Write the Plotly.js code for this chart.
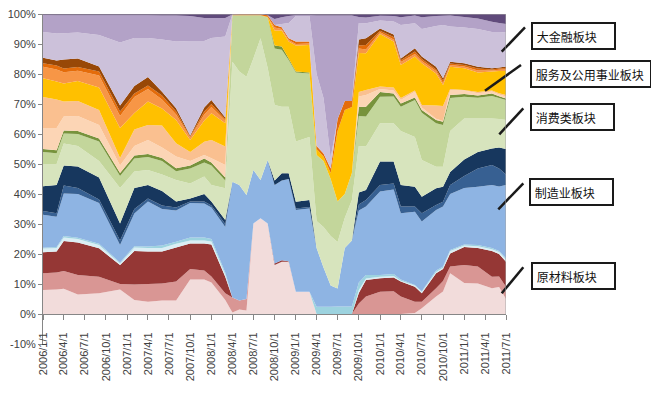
<!DOCTYPE html>
<html>
<head>
<meta charset="utf-8">
<script src="https://cdn.plot.ly/plotly-3.0.1.min.js"></script>
<style>html,body{margin:0;padding:0;background:#fff;}#chart{width:651px;height:393px;}</style>
</head>
<body>
<div id="chart"></div>
<script>
// dates of the data points (month starts)
const dates = ['2006-01-01','2006-03-01','2006-04-01','2006-06-01','2006-09-01','2006-12-01','2007-02-01','2007-04-01','2007-06-01','2007-08-01',
'2007-10-01','2007-12-01','2008-01-01','2008-03-01','2008-04-01','2008-05-01','2008-06-01','2008-07-01','2008-08-01','2008-09-01',
'2008-10-01','2008-11-01','2008-12-01','2009-01-01','2009-03-01','2009-04-01','2009-05-01','2009-06-01','2009-07-01','2009-08-01',
'2009-09-01','2009-10-01','2009-11-01','2010-01-01','2010-03-01','2010-04-01','2010-06-01','2010-07-01','2010-09-01','2010-10-01',
'2010-11-01','2011-01-01','2011-03-01','2011-05-01','2011-06-01','2011-07-01'];

// series values (share, %), bottom to top
const s01 = [8,8.2,8.4,6.5,6.9,8.2,4.7,4.1,4.5,4.5, 11.5,11.5,10.5,4.7,0.5,1.5,1.2,30.2,31.9,30.2, 16.3,17.4,17.4,7.4,7.4,0,0,0,0,0, 0,0,0,0,0,0,0.3,1.9,5.8,7.5, 13.6,10.3,10.2,8.6,9,5];
const s02 = [5.6,5.6,5.9,6.5,5.5,1.8,5.1,5.9,5.7,6.3, 3.5,3,2,2.2,5,3,3.8,0,0,0, 0,0,0,0,0,0,0,0,0,0, 0,3.5,5.8,7.4,7.6,5.8,3.8,2.2,2.8,3.5, 2.2,6,5.6,3.8,3.5,4.1];
const s03 = [7,7,10,10.8,9.5,6.3,11.2,10.8,10.6,11.4, 8.5,9,10.7,5.5,0,0,0,0,0,0, 0.5,0.5,0.2,0,0,0,0,0,0,0, 0,3.5,5.5,4.5,4.6,5,5,2.8,5,4, 4.4,6,6.2,8.6,7.5,8.3];
const s04 = [1.2,1.2,1.2,1.2,1.1,0.5,1.2,1.2,1.2,1.2, 1,1,1,0.8,0,0,0,0,0,0, 0,0,0,0,0,0,0,0,0,0, 0,1,0.5,0.5,0.5,0.3,0.4,0.5,0.4,0.4, 0.8,0.5,0.6,0.6,0.7,0.8];
const s05 = [0.3,0.3,0.5,0.4,0.4,0.4,0.4,0.5,0.8,0.7, 1,1,0.8,0.6,0,0,0,0,0,0, 0,0,0,0,0,2.4,2.4,2.4,2.5,2.5, 2.5,2.5,1.2,0.6,0.6,0.4,0.2,0.2,0.5,0.4, 0.3,0.4,0.4,0.4,0.3,0.4];
const s06 = [11,10.1,14.2,14.6,13.6,5.8,10.9,15,12.2,10.4, 11.5,11.3,10.5,15.2,38.6,38.5,34.7,17.8,12.8,21.1, 26.2,26.6,27.4,27.3,27.8,19.6,13.1,7.1,6,19.5, 22,24,22.8,27.8,28.2,22.1,24.4,23.2,20.2,20, 18.7,18.8,19.4,21,21.5,24.4];
const s07 = [1.2,1.2,2.6,2,1.2,1.5,1.5,1,1.2,1, 0.5,0.7,0.7,1,0,0,0,0,0,0, 0,0,0,0.5,0.5,0,0,0,0,0, 0,2,2.2,2.2,2,2.2,1.7,2.8,1.6,1.6, 3,4,6.1,6.7,6,3.5];
const s08 = [8.3,9.4,6.7,7.2,7.3,5.7,7,4.5,4.8,2, 1,2.5,1.3,1.3,0,0,0,0,0,0, 1.5,2.4,1.9,2.2,2.3,0,0,0,0,0, 0,4,3.3,7.8,7.3,7.2,6.6,5.5,5.6,5, 4.3,5.5,5.5,5.5,7,8.5];
const s09 = [7.4,7,7.3,6.8,5.5,11.8,5.5,5,5.5,7.2, 5,5.8,5.5,10.6,40,37.8,39.4,37.2,47.2,30.7, 25.2,22.2,22.2,20.1,21,9,13.5,16.5,15.5,10, 13.5,15.5,14.5,12.8,12.8,18,16.6,12.2,7.2,6.7, 13.7,13.7,11.2,10,9.5,9.7];
const s10 = [4,3.6,3.4,4,6.5,4,4.3,4.3,4.5,2.9, 5,4.7,6.5,2.6,15.5,18.8,20.5,14.4,7.7,16.8, 18.8,19,15.6,23,21.2,22,22,19,13.5,8, 9,10,10,8.8,8.9,8.1,12.3,15.8,14.5,13.9, 11,7.2,6.9,7.5,7,6.6];
const s11 = [1,1,1,1,1,1,1,1,1,1, 1,1.3,1,1,0,0,0,0,0,0, 1,1.1,0.5,0.3,0.3,0,0,0,0,0, 0,3,3.3,1.6,1,1.1,0.9,0.9,1.1,1.1, 1,0.9,0.7,0.8,0.6,0.5];
const s12 = [7,7.4,4.6,5,4.5,2.5,3.2,4.7,3.5,3.9, 1.5,1.2,1.4,4.2,0,0,0,0,0,0, 0,0,0,0,0,0,0,0,0,0, 0,3.5,3.9,1,1,1.1,1.9,0.8,0.4,0.2, 1.5,1.2,0.8,0.7,0.6,0.7];
const s13 = [10.3,9.5,5,5,5,2.5,5.5,5,7.3,4.4, 3,4.4,6.1,6.1,0,0,0,0,0,0, 0,0,0,0,0,0,0,0,0,0, 0,1.5,1.7,0.8,1,0.7,0.4,0.9,4.4,5, 0.5,0.2,0.4,0.3,0.4,0.5];
const s14 = [6.3,6,6,6.7,7.5,10,5.5,7.8,5.7,7.8, 4,7.1,8.9,7.8,0,0,0,0,0,0.3, 5,5.3,5.6,8.7,9.2,2,1.5,2,23.5,28, 22,13,12.2,17.5,15.3,11,11.3,13.9,10.7,7, 7.4,7.2,6.5,6.3,7.4,8];
const s15 = [3.8,4,3.8,3.4,4,4,5.3,4.2,3,1.8, 0.8,2,2.1,0.9,0,0,0,0,0,0, 1,0.5,0.5,0.5,0.5,0,0,0,0,0, 0,1.5,1.3,0.6,0.7,1,0.9,0.7,0.8,0.7, 0.6,0.6,0.7,0.4,0.4,0.5];
const s16 = [1.2,1.3,1.2,1.2,1.3,1.5,1.2,1.2,1.3,1, 0.4,1,1,0.5,0.2,0.3,0.3,0.3,0.3,0.5, 0.8,0.6,0.6,0.8,0.6,1,1,1.5,4,3, 2,1,1.5,0.5,0.8,0.6,0.8,0.7,0.5,0.8, 0.5,0.5,0.6,0.3,0.4,0.5];
const s17 = [1.8,1.7,3,2.9,1.7,2,2.5,2.8,1.3,1.1, 0.3,1.3,1.3,0.5,0,0,0,0,0,0, 0,0,0,0,0,0,0,0,0,0, 0,2,2.2,0.8,0.9,0.6,1.1,0.8,0.9,0.8, 0.6,0.6,0.6,0.4,0.4,0.5];
const s18 = [8.6,9,8.8,8.6,10.5,21,16,13,17.4,22.2, 31.5,22.2,20.7,27,0,0,0,0,0,0, 0,1.1,5.1,8.5,8.5,24,18.5,3.5,0,0, 0,5.5,5,2.6,4.3,11.1,8.3,9.2,13.6,17.7, 11.7,11.9,12.6,12.1,11.8,11.3];
const s19 = [5.7,6.1,6,5.8,6.6,9.1,7.6,7.6,8,8.7, 8.3,7.7,6.7,6.2,0,0,0,0,0,0, 2,2.2,2.3,0.3,0.3,19.5,27.5,47.5,34.5,28.5, 28.5,2,1.9,1.6,1.8,2.6,2.6,3.9,3.3,3.1, 3.7,3.5,3.5,3.4,3,2.9];
const s20 = [0.3,0.4,0.4,0.4,0.4,0.4,0.4,0.4,0.5,0.5, 0.7,1.3,1.3,1.3,0.2,0.1,0.1,0.1,0.1,0.4, 1.7,1.1,0.7,0.4,0.4,0.5,0.5,0.5,0.5,0.5, 0.5,1,1.2,0.6,0.7,1.1,0.5,1.1,0.7,0.6, 0.5,1,1.5,2.6,3,3.3];

const seriesValues = [s01,s02,s03,s04,s05,s06,s07,s08,s09,s10,s11,s12,s13,s14,s15,s16,s17,s18,s19,s20];
const seriesNames = ['原材料1','原材料2','原材料3','制造业1','制造业2','制造业3','制造业4','制造业5','消费1','消费2','消费3',
  '服务1','服务2','服务3','服务4','服务5','服务6','大金融1','大金融2','大金融3'];
const seriesColors = ['#F2DCDB','#D99694','#953735','#DBEEF4','#9DD3DF','#8EB4E3','#376092','#17375E','#D7E4BD','#C3D69B','#77933C',
  '#FCD5B5','#FAC090','#FFC000','#F79646','#E46C0A','#984807','#CCC1DA','#B3A2C7','#604A7B'];

// x axis tick labels
const tickDates = ['2006-01-01','2006-04-01','2006-07-01','2006-10-01','2007-01-01','2007-04-01','2007-07-01','2007-10-01',
 '2008-01-01','2008-04-01','2008-07-01','2008-10-01','2009-01-01','2009-04-01','2009-07-01','2009-10-01',
 '2010-01-01','2010-04-01','2010-07-01','2010-10-01','2011-01-01','2011-04-01','2011-07-01'];
const tickLabels = ['2006/1/1','2006/4/1','2006/7/1','2006/10/1','2007/1/1','2007/4/1','2007/7/1','2007/10/1',
 '2008/1/1','2008/4/1','2008/7/1','2008/10/1','2009/1/1','2009/4/1','2009/7/1','2009/10/1',
 '2010/1/1','2010/4/1','2010/7/1','2010/10/1','2011/1/1','2011/4/1','2011/7/1'];
const yTicks = [-10,0,10,20,30,40,50,60,70,80,90,100];
const yLabels = yTicks.map(v => v + '%');
const sectorLabels = ['大金融板块','服务及公用事业板块','消费类板块','制造业板块','原材料板块'];

const traces = seriesValues.map((vals, i) => ({
  type: 'scatter', mode: 'none', x: dates, y: vals, name: seriesNames[i],
  stackgroup: 'one', groupnorm: i === 0 ? 'percent' : undefined,
  fillcolor: seriesColors[i], line: {width: 0}, hoverinfo: 'skip'
}));

// pixel -> paper helpers (plot area: x 43..506, y 14..344)
const L = 43, R = 506, T = 14, B = 344;
const PX = x => (x - L) / (R - L);
const PY = y => (B - y) / (B - T);

const boxes = [
  {cx: 573, cy: 35.5, w: 79},
  {cx: 591, cy: 74, w: 116},
  {cx: 572, cy: 117, w: 79},
  {cx: 571.7, cy: 192, w: 79},
  {cx: 573.7, cy: 275.5, w: 79}
];
const leaders = [
  [501.7, 51.7, 525, 27.3],
  [485, 90.7, 521, 65],
  [499.3, 134.3, 523.3, 108.3],
  [498.3, 209.3, 523.3, 183.3],
  [501.7, 293.3, 523.3, 267.3]
];

const annotations = sectorLabels.map((t, i) => ({
  xref: 'paper', yref: 'paper', x: PX(boxes[i].cx), y: PY(boxes[i].cy),
  xanchor: 'center', yanchor: 'middle', showarrow: false,
  text: '\u00a0' + t, align: 'left', width: boxes[i].w, height: 22,
  bordercolor: '#1a1a1a', borderwidth: 2, borderpad: 1, bgcolor: '#ffffff',
  font: {family: 'Noto Sans CJK SC, sans-serif', size: 12, color: '#111111'}
}));

const shapes = leaders.map(l => ({
  type: 'line', xref: 'paper', yref: 'paper',
  x0: PX(l[0]), y0: PY(l[1]), x1: PX(l[2]), y1: PY(l[3]),
  line: {color: '#1a1a1a', width: 2.5}
}));
shapes.push({
  type: 'path', xref: 'x', yref: 'y',
  path: 'M 2006-01-01,100 L 2011-07-01,100 L 2011-07-01,0',
  line: {color: '#A6A6A6', width: 1}
});

const tickFont = {family: 'Liberation Sans, Arial, sans-serif', size: 11, color: '#404040'};

const layout = {
  width: 651, height: 393,
  margin: {l: L, r: 651 - R, t: T, b: 393 - B, pad: 0},
  paper_bgcolor: '#ffffff', plot_bgcolor: '#ffffff',
  showlegend: false,
  xaxis: {
    type: 'date', range: ['2006-01-01', '2011-07-01'],
    tickmode: 'array', tickvals: tickDates, ticktext: tickLabels, tickangle: -90,
    ticks: 'outside', ticklen: 5, tickcolor: '#868686', tickwidth: 1,
    ticklabelstandoff: 8,
    showline: true, linecolor: '#868686', linewidth: 1,
    showgrid: false, zeroline: false,
    anchor: 'free', position: 10 / 110,
    tickfont: tickFont, automargin: false
  },
  yaxis: {
    range: [-10, 100], tickmode: 'array', tickvals: yTicks, ticktext: yLabels,
    ticks: 'outside', ticklen: 4, tickcolor: '#868686',
    showline: true, linecolor: '#868686', linewidth: 1,
    showgrid: false, zeroline: false, tickfont: tickFont, automargin: false
  },
  annotations: annotations,
  shapes: shapes
};

Plotly.newPlot('chart', traces, layout, {staticPlot: true, displayModeBar: false});
</script>
</body>
</html>
